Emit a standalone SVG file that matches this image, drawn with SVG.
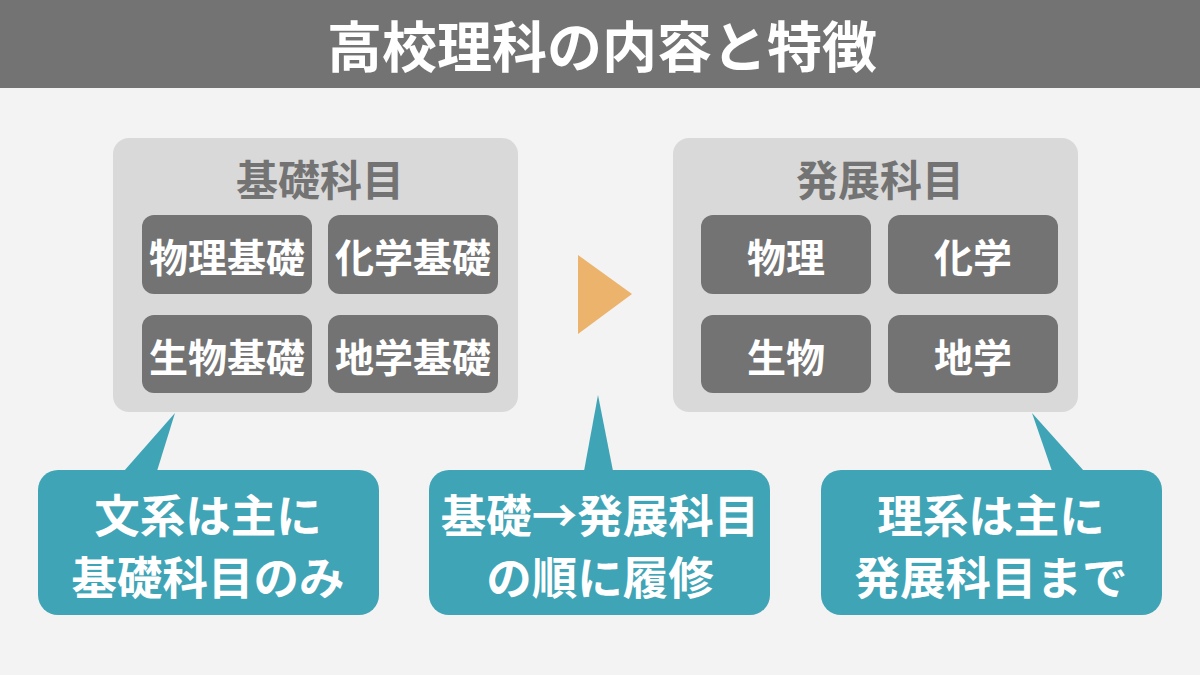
<svg xmlns="http://www.w3.org/2000/svg" width="1200" height="675" viewBox="0 0 1200 675">
<style>
text{font-family:"Noto Sans CJK JP","Noto Sans",sans-serif;font-weight:bold;text-anchor:middle;dominant-baseline:central}
.grp{fill:#d9d9d9}
.item{fill:#737373}
.itemt{fill:#ffffff;font-size:39px}
.head{fill:#737373;font-size:42px}
.call{fill:#3fa4b5}
.callt{fill:#ffffff;font-size:45.5px}
</style>
<rect x="0" y="0" width="1200" height="675" fill="#f3f3f3"/>
<g id="header">
<rect x="0" y="0" width="1200" height="88" fill="#737373"/>
<text x="602" y="43" fill="#ffffff" font-size="55">高校理科の内容と特徴</text>
</g>
<g id="basic">
<rect class="grp" x="113" y="138" width="405" height="274" rx="16"/>
<text class="head" x="320" y="177">基礎科目</text>
</g>
<g id="physics-basic"><rect class="item" x="142" y="215" width="170" height="79" rx="12"/><text class="itemt" x="227" y="255">物理基礎</text></g>
<g id="chem-basic"><rect class="item" x="328" y="215" width="170" height="79" rx="12"/><text class="itemt" x="413" y="255">化学基礎</text></g>
<g id="bio-basic"><rect class="item" x="142" y="315" width="170" height="78" rx="12"/><text class="itemt" x="227" y="355">生物基礎</text></g>
<g id="earth-basic"><rect class="item" x="328" y="315" width="170" height="78" rx="12"/><text class="itemt" x="413" y="355">地学基礎</text></g>
<g id="advanced">
<rect class="grp" x="673" y="138" width="405" height="274" rx="16"/>
<text class="head" x="880" y="177">発展科目</text>
</g>
<g id="physics"><rect class="item" x="701" y="215" width="170" height="79" rx="12"/><text class="itemt" x="786" y="255">物理</text></g>
<g id="chem"><rect class="item" x="888" y="215" width="170" height="79" rx="12"/><text class="itemt" x="973" y="255">化学</text></g>
<g id="bio"><rect class="item" x="701" y="315" width="170" height="78" rx="12"/><text class="itemt" x="786" y="355">生物</text></g>
<g id="earth"><rect class="item" x="888" y="315" width="170" height="78" rx="12"/><text class="itemt" x="973" y="355">地学</text></g>
<g id="connectors">
<polygon points="578,255 632,294 578,334" fill="#ecb36c"/>
</g>
<g id="callout-left">
<rect class="call" x="38" y="470" width="341" height="145" rx="20"/>
<polygon class="call" points="124,471 175,413 157,471"/>
<text class="callt" x="208" y="513">文系は主に</text>
<text class="callt" x="208" y="575">基礎科目のみ</text>
</g>
<g id="callout-mid">
<rect class="call" x="429" y="470" width="341" height="145" rx="20"/>
<polygon class="call" points="584,471 598,395 613,471"/>
<text class="callt" x="600" y="513">基礎→発展科目</text>
<text class="callt" x="600" y="575">の順に履修</text>
</g>
<g id="callout-right">
<rect class="call" x="821" y="470" width="341" height="145" rx="20"/>
<polygon class="call" points="1052,471 1032,413 1084,471"/>
<text class="callt" x="991" y="513">理系は主に</text>
<text class="callt" x="991" y="575">発展科目まで</text>
</g>
</svg>
